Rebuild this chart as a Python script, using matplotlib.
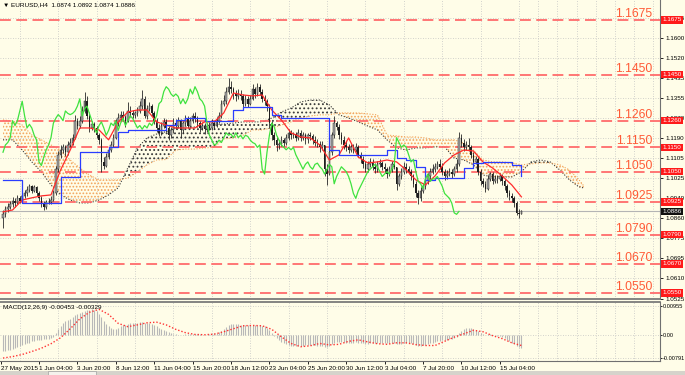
"""EURUSD H4 chart with Ichimoku cloud, support/resistance levels and MACD (MT4 look)."""
import numpy as np
import matplotlib

matplotlib.use("Agg")
import matplotlib.pyplot as plt  # noqa: E402
from matplotlib.patches import Rectangle  # noqa: E402

plt.rcParams["font.family"] = ["Liberation Sans", "DejaVu Sans"]
plt.rcParams["hatch.linewidth"] = 0.8

BG = "#fffde8"

# ---- price data, in pips (price * 1e4); open of a bar = previous close ----
FIRST_OPEN = 10860
CLOSE = [
    10875, 10895,
    10905, 10915, 10930, 10920, 10940, 10930,
    10950, 10960, 10975, 10990, 10970, 10985,
    10960, 10940, 10920, 10905, 10925, 10925,
    10935, 10960, 11060, 11120, 11140, 11150,
    11130, 11160, 11170, 11190, 11260, 11240,
    11260, 11300, 11340, 11280, 11230, 11245,
    11230, 11200, 11180, 11090, 11075, 11110,
    11140, 11160, 11190, 11250, 11270, 11285,
    11275, 11260, 11300, 11290, 11285, 11290,
    11300, 11320, 11350, 11280, 11310, 11320,
    11290, 11260, 11230, 11210, 11240, 11255,
    11230, 11200, 11220, 11250, 11240, 11260,
    11220, 11250, 11270, 11240, 11260, 11280,
    11270, 11250, 11230, 11240, 11225, 11240,
    11230, 11250, 11240, 11260, 11280, 11330,
    11340, 11380, 11400, 11390, 11370, 11360,
    11370, 11360, 11330, 11350, 11330, 11350,
    11390, 11370, 11400, 11380, 11350, 11340,
    11320, 11250, 11200, 11180, 11160, 11165,
    11180, 11170, 11190, 11210, 11200, 11205,
    11190, 11210, 11190, 11200, 11185, 11200,
    11195, 11180, 11170, 11165, 11150, 11160,
    11060, 11040, 11130, 11200, 11250, 11235,
    11200, 11180, 11160, 11150, 11140, 11150,
    11140, 11150, 11120, 11100, 11080, 11060,
    11080, 11090, 11070, 11060, 11080, 11085,
    11070, 11060, 11040, 11060, 11080, 11070,
    11000, 11030, 11050, 11070, 11060, 11050,
    11030, 11000, 10960, 10940, 10970, 10990,
    11010, 11030, 11050, 11060, 11070, 11080,
    11070, 11050, 11030, 11040, 11050, 11040,
    11060, 11080, 11190, 11170, 11150, 11160,
    11150, 11120, 11090, 11100, 11050, 11010,
    11000, 10980, 11020, 11040, 11010, 11020,
    11020, 11030, 11010, 10990, 10960, 10950,
    10940, 10920, 10880, 10874, 10886,
]
HIGH = [
    10890, 10910,
    10920, 10930, 10945, 10940, 10955, 10950,
    10965, 10975, 10990, 11000, 10995, 10995,
    10990, 10970, 10950, 10930, 10935, 10940,
    10950, 10975, 11075, 11135, 11160, 11165,
    11160, 11175, 11190, 11205, 11285, 11270,
    11280, 11320, 11380, 11360, 11295, 11260,
    11255, 11240, 11210, 11190, 11110, 11125,
    11150, 11175, 11205, 11265, 11290, 11300,
    11300, 11285, 11335, 11320, 11305, 11300,
    11315, 11340, 11385, 11360, 11325, 11335,
    11330, 11300, 11270, 11245, 11255, 11270,
    11265, 11240, 11235, 11270, 11265, 11275,
    11265, 11260, 11285, 11280, 11275, 11290,
    11295, 11280, 11260, 11255, 11250, 11250,
    11255, 11265, 11260, 11275, 11295, 11345,
    11365, 11400, 11436, 11425, 11400, 11385,
    11390, 11385, 11370, 11365, 11360, 11365,
    11410, 11400, 11415, 11410, 11390, 11365,
    11350, 11330, 11260, 11215, 11195, 11180,
    11195, 11190, 11205, 11225, 11220, 11215,
    11215, 11225, 11220, 11215, 11210, 11210,
    11215, 11205, 11195, 11185, 11175, 11175,
    11160, 11080, 11150, 11215, 11278, 11260,
    11245, 11215, 11195, 11175, 11165, 11165,
    11165, 11170, 11160, 11130, 11115, 11095,
    11095, 11105, 11100, 11085, 11095, 11100,
    11095, 11085, 11070, 11075, 11095, 11100,
    11070, 11045, 11065, 11090, 11085, 11075,
    11060, 11040, 11010, 10975, 10985, 11005,
    11025, 11045, 11065, 11080, 11085, 11095,
    11100, 11085, 11060, 11055, 11065, 11060,
    11075, 11100, 11215, 11205, 11185, 11175,
    11190, 11160, 11130, 11115, 11110, 11060,
    11025, 11010, 11035, 11050, 11050, 11035,
    11035, 11045, 11040, 11020, 11000, 10975,
    10960, 10950, 10930, 10895, 10892,
]
LOW = [
    10819, 10865,
    10885, 10895, 10905, 10905, 10915, 10920,
    10925, 10940, 10950, 10965, 10960, 10965,
    10950, 10930, 10905, 10890, 10895, 10915,
    10915, 10930, 10955, 11050, 11105, 11125,
    11115, 11120, 11150, 11160, 11185, 11225,
    11230, 11250, 11290, 11265, 11215, 11220,
    11215, 11190, 11165, 11050, 11060, 11070,
    11100, 11130, 11150, 11185, 11240, 11260,
    11260, 11235, 11255, 11275, 11270, 11270,
    11280, 11290, 11310, 11270, 11265, 11300,
    11280, 11245, 11215, 11195, 11200, 11230,
    11215, 11180, 11190, 11210, 11225, 11230,
    11190, 11210, 11240, 11230, 11230, 11250,
    11255, 11235, 11215, 11220, 11205, 11215,
    11220, 11220, 11225, 11235, 11250, 11270,
    11320, 11330, 11370, 11375, 11350, 11340,
    11350, 11345, 11315, 11320, 11315, 11325,
    11345, 11355, 11360, 11365, 11335, 11325,
    11300, 11230, 11180, 11160, 11135, 11145,
    11155, 11155, 11160, 11180, 11185, 11190,
    11175, 11180, 11175, 11180, 11165, 11170,
    11180, 11165, 11155, 11150, 11130, 11140,
    11030, 10995, 11035, 11120, 11190, 11220,
    11185, 11165, 11145, 11135, 11125, 11130,
    11125, 11130, 11110, 11085, 11065, 11050,
    11050, 11070, 11055, 11045, 11050, 11070,
    11055, 11045, 11025, 11030, 11050, 11060,
    10975, 10990, 11020, 11040, 11045, 11040,
    11015, 10985, 10945, 10915, 10930, 10960,
    10980, 11000, 11020, 11040, 11050, 11060,
    11060, 11035, 11015, 11020, 11030, 11025,
    11030, 11050, 11075, 11150, 11135, 11140,
    11135, 11105, 11075, 11080, 11035, 10995,
    10985, 10965, 10975, 11010, 11000, 11005,
    11005, 11010, 10995, 10975, 10945, 10935,
    10925, 10905, 10870, 10858, 10874,
]

# Ichimoku lines at every 4th bar (pips)
TENKAN = [
    10884, 10892, 10933, 10942, 10950, 10954, 11057, 11139, 11230, 11230,
    11222, 11181, 11255, 11296, 11304, 11304, 11255, 11242, 11230, 11230,
    11230, 11255, 11255, 11292, 11374, 11366, 11362, 11366, 11304, 11263,
    11210, 11193, 11189, 11160, 11098, 11119, 11189, 11110, 11086, 11090,
    11098, 11090, 11057, 11016, 10995, 11032, 11086, 11119, 11139, 11135,
    11090, 11065, 11032, 10995, 10946,
]
KIJUN = [
    11016, 11016, 10921, 10921, 10921, 10921, 11028, 11028, 11131, 11131,
    11131, 11152, 11214, 11222, 11222, 11222, 11222, 11242, 11263, 11271,
    11271, 11259, 11259, 11259, 11304, 11317, 11317, 11317, 11284, 11271,
    11271, 11271, 11271, 11271, 11139, 11119, 11119, 11119, 11119, 11119,
    11139, 11106, 11098, 11069, 11016, 11024, 11024, 11024, 11065, 11086,
    11090, 11090, 11090, 11078, 11032,
]
# cloud edges, every 4th bar out to 26 bars past the last candle (pips)
SENKOU_A = [
    11181, 11181, 11139, 11090, 11049, 10995, 10954, 10933, 10921, 10921,
    10933, 10954, 10983, 11065, 11148, 11189, 11205, 11215, 11230, 11234,
    11234, 11240, 11244, 11246, 11250, 11255, 11255, 11255, 11271, 11296,
    11312, 11337, 11345, 11345, 11325, 11284, 11271, 11255, 11238, 11222,
    11181, 11148, 11139, 11148, 11148, 11152, 11152, 11106, 11098, 11078,
    11036, 11028, 11028, 11028, 11049, 11090, 11098, 11090, 11057, 11016,
    10987, 10983,
]
SENKOU_B = [
    11263, 11259, 11242, 11201, 11181, 11160, 11139, 11098, 11065, 11036,
    11016, 11016, 11016, 11024, 11049, 11078, 11098, 11100, 11139, 11143,
    11143, 11148, 11150, 11185, 11189, 11200, 11222, 11222, 11230, 11242,
    11255, 11271, 11279, 11284, 11284, 11292, 11292, 11292, 11288, 11284,
    11201, 11197, 11193, 11193, 11189, 11181, 11181, 11181, 11168, 11139,
    11098, 11090, 11090, 11086, 11078, 11082, 11086, 11086, 11078, 11057,
    11016, 10991,
]

# MACD(12,26,9): main per bar, signal every 4th bar (units of 1e-4)
MACD_MAIN = [
    -56, -54, -52, -50, -47, -44, -41, -38, -35, -32, -29, -26,
    -22, -20, -18, -17, -16, -15, -14, -13, -11, -8,
    5, 18, 30, 40, 46, 50,
    54, 58, 65, 68, 72, 76,
    80, 83, 84, 85, 84, 80,
    70, 58, 46, 36, 28, 22,
    18, 20, 24,
    28, 32, 34, 37, 38, 38, 38, 39, 41, 43, 40, 39, 38, 36, 33, 28, 24, 20,
    16, 12, 8, 6,
    4, 2, 0, -2, -1, 1, 2, 2, 3, 3, 2, 1,
    0, -1, 0, 1, 3, 5, 7, 9, 14, 20, 26,
    32, 36, 37, 36, 35, 34, 33, 32, 31, 31, 32, 33, 33, 32, 30, 28,
    24, 16, 6, -4,
    -12, -18, -24, -28, -31, -34, -36, -37, -38, -38, -37,
    -36, -35, -34, -34, -34, -35, -36, -37, -38, -40, -42, -36, -31, -26, -24,
    -24, -24, -25, -26, -26, -26, -26, -25, -26, -27, -28, -30, -30, -29, -29,
    -29, -28, -27, -27,
    -27, -28, -28, -27, -27, -31, -31, -30, -28, -27, -27, -28, -30, -33, -36,
    -36, -35, -33, -31, -28, -26, -24,
    -22, -20, -19, -19, -17, -15, -13, -10, -6,
    6, 14, 19, 22, 24, 23, 20, 17,
    12, 7, 3, 0, 1, 2, 0, -1,
    -3, -5, -8, -12, -17, -22, -27, -32, -37, -42, -45,
]
MACD_SIGNAL = [
    -78, -73, -66, -56, -45, -30, -10, 20, 53, 75,
    85, 68, 38, 27, 33, 40, 42, 33, 18, 7,
    1, 0, 2, 10, 20, 30, 31, 30, 18, -7,
    -29, -40, -37, -29, -34, -32, -22, -17, -24, -30,
    -32, -27, -27, -33, -36, -36, -22, -8, 3, 15,
    10, -3, -13, -27, -36,
]

LEVELS = [1.1675, 1.1450, 1.1260, 1.1150, 1.1050, 1.0925, 1.0790, 1.0670, 1.0550]
PRICE_TICKS = [1.1685, 1.1600, 1.1520, 1.1435, 1.1355, 1.1270, 1.1190, 1.1105,
               1.1025, 1.0940, 1.0860, 1.0775, 1.0695, 1.0610, 1.0525]
LAST_PRICE = 1.0886
DATE_LABELS = ["27 May 2015", "1 Jun 04:00", "3 Jun 20:00", "8 Jun 12:00",
               "11 Jun 04:00", "15 Jun 20:00", "18 Jun 12:00", "23 Jun 04:00",
               "25 Jun 20:00", "30 Jun 12:00", "3 Jul 04:00", "7 Jul 20:00",
               "10 Jul 12:00", "15 Jul 04:00"]
DATE_BARS = [-1, 15, 31, 47, 63, 79, 95, 111, 127, 143, 159, 175, 191, 207]

# ---- derived arrays ----
c = np.array(CLOSE) / 1e4
o = np.r_[FIRST_OPEN, CLOSE[:-1]] / 1e4
hi = np.array(HIGH) / 1e4
lo = np.array(LOW) / 1e4
idx = np.arange(len(c))
line_idx = np.arange(0, len(c), 4)
cloud_idx = np.r_[np.arange(0, 241, 4), 242]
span_a = np.array(SENKOU_A) / 1e4
span_b = np.array(SENKOU_B) / 1e4
macd = np.array(MACD_MAIN) / 1e4
signal = np.array(MACD_SIGNAL) / 1e4

W, H = 685, 375


def px_box(x0, y0, x1, y1):
    return [x0 / W, 1 - y1 / H, (x1 - x0) / W, (y1 - y0) / H]


fig = plt.figure(figsize=(W / 100, H / 100), dpi=100, facecolor=BG)
ax = fig.add_axes(px_box(0, 0, 660, 299), facecolor=BG)
axm = fig.add_axes(px_box(0, 302, 660, 361), facecolor=BG, sharex=ax)

ax.set_xlim(-1.25, 273.75)
ax.set_ylim(1.05255, 1.175741)
axm.set_ylim(-0.00878, 0.01095)

grid_kw = dict(color="#c4c4c4", lw=0.6, ls=(0, (1, 2)))
axm.set_xticks(np.arange(7, 274, 8), minor=True)
for a in (ax, axm):
    a.grid(which="minor", axis="x", **grid_kw)
    a.grid(which="major", axis="y", **grid_kw)
    a.set_axisbelow(True)
    for side in ("left", "top"):
        a.spines[side].set_visible(False)
    for side in ("right", "bottom", "top"):
        a.spines[side].set_color("#707070")
axm.spines["top"].set_visible(True)
ax.spines["bottom"].set_linewidth(1.2)
axm.spines["top"].set_linewidth(1.2)

# ---- cloud ----
orange, dark = "#f3a45a", "#3a3a3a"
ax.fill_between(cloud_idx, span_a, span_b, where=span_b >= span_a, interpolate=True,
                facecolor="none", edgecolor=orange, hatch=".....", lw=0, zorder=2)
ax.fill_between(cloud_idx, span_a, span_b, where=span_a > span_b, interpolate=True,
                facecolor="none", edgecolor=dark, hatch="....", lw=0, zorder=2)
ax.plot(cloud_idx, span_a, color=dark, ls=(0, (1, 1.5)), lw=0.8, zorder=2)
ax.plot(cloud_idx, span_b, color=orange, ls=(0, (1, 1.5)), lw=0.8, zorder=2)

# ---- levels ----
ax.axhline(LAST_PRICE, color="#b4b4b4", lw=0.8, zorder=1)
for lv in LEVELS:
    ax.axhline(lv, color="#ff6b6b", lw=1.3, dashes=(6, 3), zorder=3)
    ax.annotate(f"{lv:.4f}", xy=(634 / 660, lv), xycoords=ax.get_yaxis_transform(),
                xytext=(0, 2.2), textcoords="offset points", ha="center", va="baseline",
                fontsize=8.7, color="#ff5a36", zorder=7)

# ---- candles ----
ax.vlines(idx, lo, hi, color="#262626", lw=0.6, zorder=4)
body = c - o
body = np.where(np.abs(body) < 0.00006, 0.00006, body)
up = c >= o
ax.bar(idx[up], body[up], bottom=o[up], width=0.62, color="#a9a9a9",
       edgecolor="#262626", lw=0.35, zorder=5)
ax.bar(idx[~up], body[~up], bottom=o[~up], width=0.62, color="#1e1e1e", lw=0, zorder=5)

# ---- ichimoku lines ----
ax.plot(line_idx, np.array(TENKAN) / 1e4, color="#ff2b2b", lw=0.9, zorder=6)
ax.plot(line_idx, np.array(KIJUN) / 1e4, color="#2a3dff", lw=0.9,
        drawstyle="steps-post", zorder=6)
ax.plot(idx[:-26], c[26:], color="#3fe23f", lw=0.9, zorder=6)

# ---- price axis ----
ax.yaxis.tick_right()
ax.set_yticks(PRICE_TICKS)
ax.set_yticklabels([f"{v:.4f}" for v in PRICE_TICKS])
ax.tick_params(axis="y", labelsize=4.5, length=2.5, pad=1.2, width=0.6)
ax.tick_params(axis="x", which="both", bottom=False, labelbottom=False)
for lv in LEVELS:
    ax.text(1.004, lv, f"{lv:.4f}", transform=ax.get_yaxis_transform(), fontsize=4.5,
            color="white", va="center", ha="left", clip_on=False, zorder=10,
            bbox=dict(boxstyle="square,pad=0.2", fc="#ff1a1a", ec="none"))
ax.text(1.004, LAST_PRICE, f"{LAST_PRICE:.4f}", transform=ax.get_yaxis_transform(),
        fontsize=4.5, color="white", va="center", ha="left", clip_on=False, zorder=10,
        bbox=dict(boxstyle="square,pad=0.2", fc="#101010", ec="none"))
ax.text(0.004, 0.992, "\u25bc EURUSD,H4  1.0874 1.0892 1.0874 1.0886",
        transform=ax.transAxes, va="top", ha="left", fontsize=4.6)

# ---- MACD ----
axm.vlines(idx, 0, macd, color="#b8b8b8", lw=0.8, zorder=2)
axm.plot(line_idx, signal, color="#ff3434", lw=1.0, ls=(0, (1, 1.4)), zorder=3)
axm.yaxis.tick_right()
axm.set_yticks([0.00955, 0.0, -0.00791])
axm.set_yticklabels(["0.00955", "0.00", "-0.00791"])
axm.tick_params(axis="y", labelsize=4.1, length=1.5, pad=0.6, width=0.6)
axm.text(0.004, 0.95, "MACD(12,26,9) -0.00453 -0.00329", transform=axm.transAxes,
         va="top", ha="left", fontsize=4.6)
axm.set_xticks(DATE_BARS)
axm.set_xticklabels(DATE_LABELS, ha="left")
axm.tick_params(axis="x", which="major", labelsize=4.6, length=2.5, pad=1.2, width=0.6)
axm.tick_params(axis="x", which="minor", length=0)

# bottom tab strip
fig.add_artist(Rectangle((0, 0), 1, 4 / H, transform=fig.transFigure,
                         fc="#d6d3cb", ec="none"))
fig.add_artist(Rectangle((48 / W, 0), 48 / W, 4 / H, transform=fig.transFigure,
                         fc="#f4f2ec", ec="#a0a0a0", lw=0.5))

fig.savefig("out.png", dpi=100, facecolor=BG)
